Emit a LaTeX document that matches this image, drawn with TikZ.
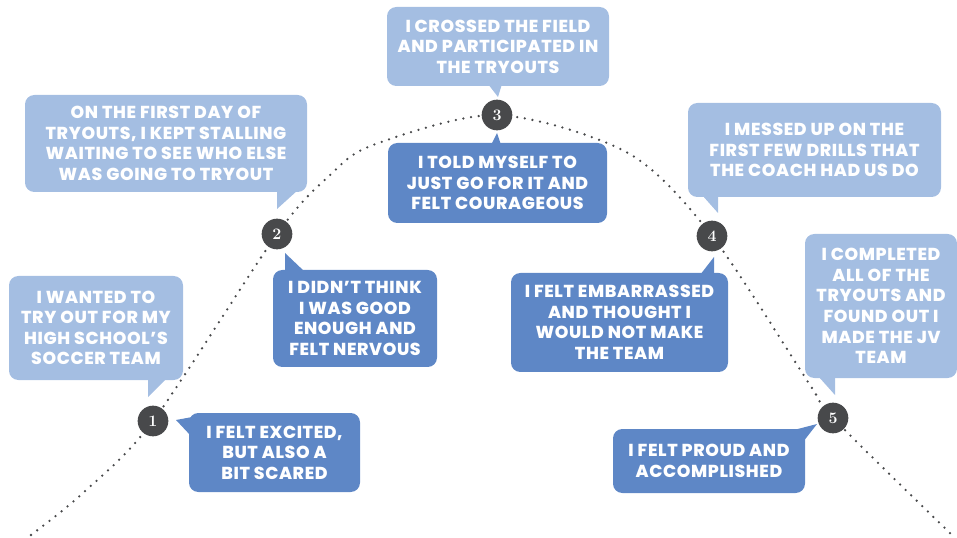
\documentclass[tikz,border=0pt]{standalone}
\usepackage{fontspec}
\newfontfamily\bubfont{Poppins}[BoldFont={Poppins ExtraBold}, LetterSpace=3.5]
\definecolor{lightb}{HTML}{A4BEE2}
\definecolor{darkb}{HTML}{5E87C6}
\definecolor{dotc}{HTML}{48494B}
\begin{document}
\begin{tikzpicture}[x=0.75pt,y=-0.75pt,
  bub/.style={rectangle, rounded corners=7pt, inner sep=0pt, align=center, text=white,
    font=\bubfont\bfseries\fontsize{13}{15.4}\selectfont},
  lbub/.style={bub, fill=lightb},
  dbub/.style={bub, fill=darkb},
  num/.style={circle, fill=dotc, minimum size=23pt, inner sep=0pt, text=white,
    font=\rmfamily\bfseries\fontsize{12}{12}\selectfont},
  curve/.style={dotc, line width=1.9pt, line cap=round, dash pattern=on 0pt off 5.8pt}]
\useasboundingbox (0,0) rectangle (957,538);

% points on the curve
\coordinate (s) at (31,535);
\coordinate (e) at (952,535);
\coordinate (p1) at (153,421);
\coordinate (p2) at (277,234);
\coordinate (p3) at (497,115);
\coordinate (p4) at (712,236);
\coordinate (p5) at (833,418);

\draw[curve] plot[smooth, tension=0.5] coordinates {(s) (83,493) (p1) (p2) (328,177) (373,145) (p3) (628,153) (p4) (810,385) (p5) (e)};

% tails
\fill[lightb] (148,378) -- (167,378) -- (148,397) -- cycle;
\fill[darkb] (203,415) -- (176,420) -- (191,436) -- cycle;
\fill[lightb] (277,190) -- (298,190) -- (277,209) -- cycle;
\fill[darkb] (285,253) -- (285,272) -- (305,272) -- cycle;
\fill[lightb] (488,84) -- (502,84) -- (498,97) -- cycle;
\fill[darkb] (491,145) -- (501,145) -- (497,133) -- cycle;
\fill[lightb] (702,195) -- (718,195) -- (718,213) -- cycle;
\fill[darkb] (700,275) -- (714,275) -- (714,257) -- cycle;
\fill[lightb] (818,376) -- (835,376) -- (835,395) -- cycle;
\fill[darkb] (790,431) -- (817,424) -- (803,442) -- cycle;

% bubbles
\node[lbub, minimum width=130.5pt, minimum height=78pt] (a1) at (96,328)
  {I WANTED TO\\TRY OUT FOR MY\\HIGH SCHOOL’S\\SOCCER TEAM};
\node[dbub, minimum width=128.25pt, minimum height=59.25pt] (a2) at (274.5,452.5)
  {I FELT EXCITED,\\BUT ALSO A\\BIT SCARED};
\node[lbub, minimum width=211.5pt, minimum height=72.75pt] (b1) at (166,143.5)
  {ON THE FIRST DAY OF\\TRYOUTS, I KEPT STALLING\\WAITING TO SEE WHO ELSE\\WAS GOING TO TRYOUT};
\node[dbub, minimum width=123pt, minimum height=72.75pt] (b2) at (355,318.5)
  {I DIDN’T THINK\\I WAS GOOD\\ENOUGH AND\\FELT NERVOUS};
\node[lbub, minimum width=166.5pt, minimum height=59.25pt] (c1) at (498,46.5)
  {I CROSSED THE FIELD\\AND PARTICIPATED IN\\THE TRYOUTS};
\node[dbub, minimum width=164.25pt, minimum height=60pt] (c2) at (497.5,183)
  {I TOLD MYSELF TO\\JUST GO FOR IT AND\\FELT COURAGEOUS};
\node[lbub, minimum width=189.75pt, minimum height=70.5pt] (d1) at (814.5,150)
  {I MESSED UP ON THE\\FIRST FEW DRILLS THAT\\THE COACH HAD US DO};
\node[dbub, minimum width=162.75pt, minimum height=74.25pt] (d2) at (619.5,322.5)
  {I FELT EMBARRASSED\\AND THOUGHT I\\WOULD NOT MAKE\\THE TEAM};
\node[lbub, minimum width=114pt, minimum height=108pt] (e1) at (881,306)
  {I COMPLETED\\ALL OF THE\\TRYOUTS AND\\FOUND OUT I\\MADE THE JV\\TEAM};
\node[dbub, minimum width=144pt, minimum height=48pt] (e2) at (709,461)
  {I FELT PROUD AND\\ACCOMPLISHED};

% numbered markers
\node[num] (n1) at (p1) {1};
\node[num] (n2) at (p2) {2};
\node[num] (n3) at (p3) {3};
\node[num] (n4) at (p4) {4};
\node[num] (n5) at (p5) {5};
\end{tikzpicture}
\end{document}
